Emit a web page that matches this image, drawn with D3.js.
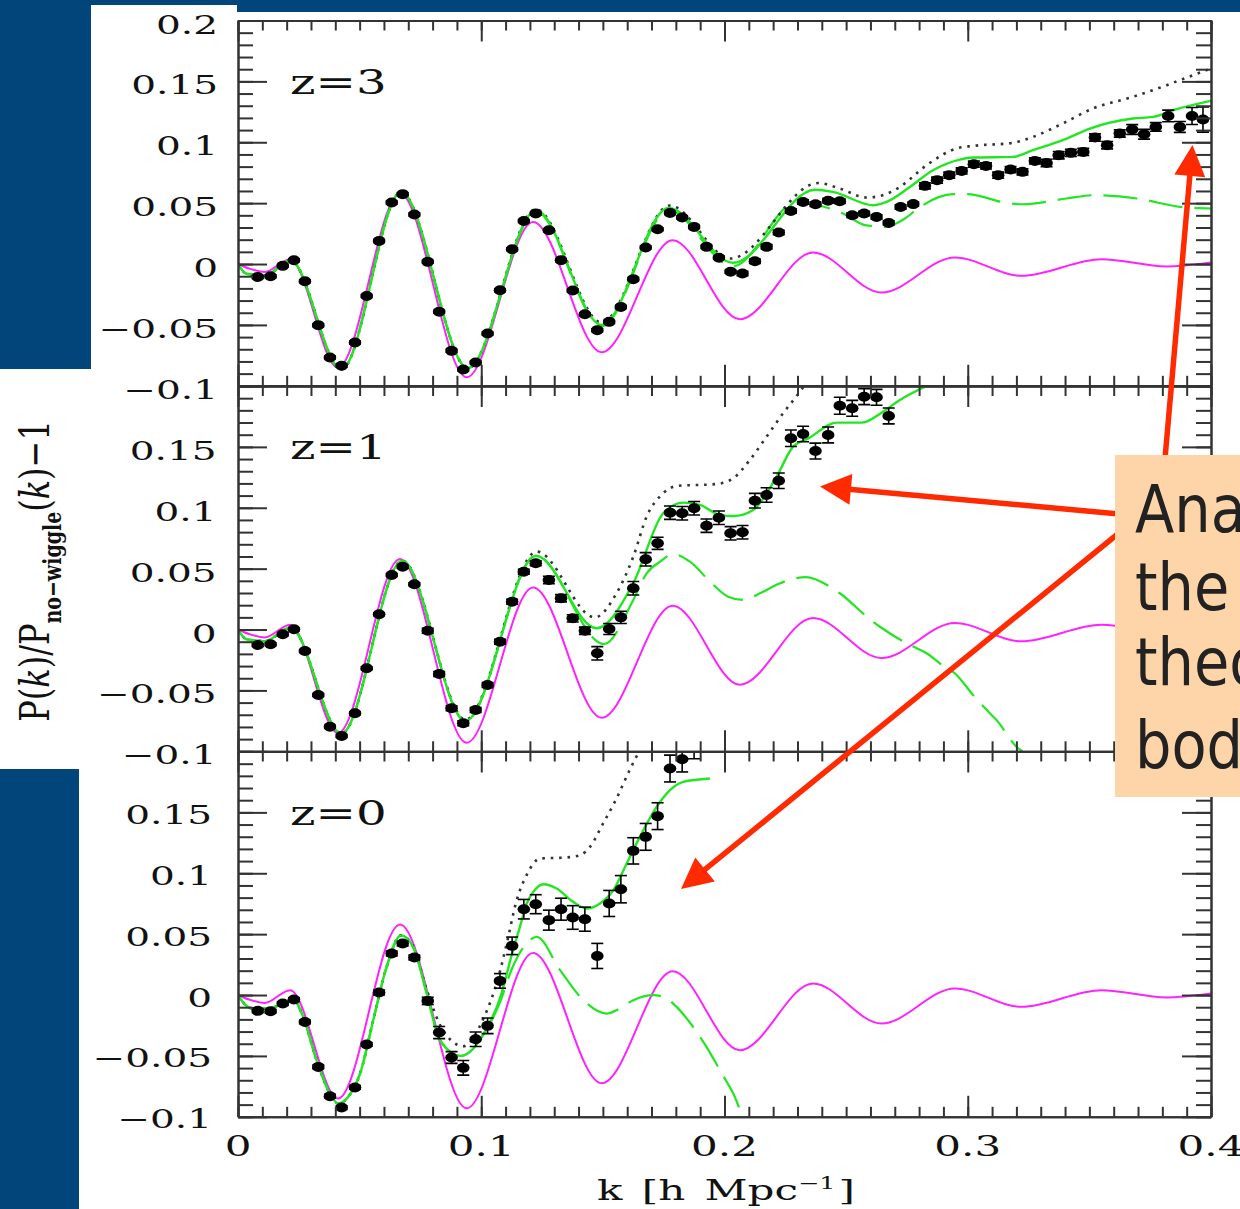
<!DOCTYPE html>
<html>
<head>
<meta charset="utf-8">
<script src="https://cdn.jsdelivr.net/npm/d3@7"></script>
<style>
  html, body { margin: 0; padding: 0; background: #ffffff; }
  svg { display: block; }
</style>
</head>
<body>
<svg id="chart" width="1240" height="1209"></svg>
<script>
// ---------------------------------------------------------------
// BAO wiggle ratio P(k)/P_no-wiggle(k) - 1 at three redshifts
// ---------------------------------------------------------------

// wavenumber bins of the N-body measurements [h/Mpc]
const kBins = [0.0081, 0.0134, 0.0184, 0.0230, 0.0275, 0.0330, 0.0378, 0.0426, 0.0481, 0.0529,
  0.0580, 0.0632, 0.0677, 0.0725, 0.0780, 0.0827, 0.0878, 0.0926, 0.0977, 0.1026,
  0.1077, 0.1127, 0.1175, 0.1224, 0.1278, 0.1328, 0.1376, 0.1426, 0.1477, 0.1526,
  0.1574, 0.1625, 0.1676, 0.1725, 0.1776, 0.1826, 0.1875, 0.1926, 0.1977, 0.2025,
  0.2074, 0.2125, 0.2173, 0.2223, 0.2273, 0.2323, 0.2374, 0.2426, 0.2474, 0.2525,
  0.2574, 0.2625, 0.2675, 0.2724, 0.2776, 0.2824, 0.2874, 0.2924, 0.2975, 0.3025,
  0.3075, 0.3125, 0.3176, 0.3225, 0.3276, 0.3324, 0.3374, 0.3424, 0.3475, 0.3523,
  0.3573, 0.3625, 0.3676, 0.3725, 0.3773, 0.3824, 0.3872, 0.3922, 0.3967];

// measured ratio and 1-sigma errors, z = 3
const ratioZ3 = [-0.0106, -0.0100, -0.0015, 0.0031, -0.0141, -0.0502, -0.0768, -0.0836, -0.0644, -0.0262,
  0.0190, 0.0505, 0.0574, 0.0407, 0.0018, -0.0392, -0.0713, -0.0866, -0.0808, -0.0570,
  -0.0215, 0.0122, 0.0354, 0.0415, 0.0278, 0.0032, -0.0218, -0.0412, -0.0543, -0.0475,
  -0.0352, -0.0124, 0.0136, 0.0286, 0.0420, 0.0382, 0.0305, 0.0141, 0.0051, -0.0064,
  -0.0078, 0.0023, 0.0141, 0.0259, 0.0436, 0.0510, 0.0491, 0.0519, 0.0516, 0.0401,
  0.0415, 0.0387, 0.0338, 0.0469, 0.0492, 0.0642, 0.0689, 0.0730, 0.0765, 0.0820,
  0.0806, 0.0730, 0.0776, 0.0757, 0.0847, 0.0830, 0.0894, 0.0913, 0.0921, 0.1039,
  0.0976, 0.1072, 0.1105, 0.1066, 0.1126, 0.1216, 0.1126, 0.1216, 0.1187];
const errZ3 = [0.0012, 0.0012, 0.0012, 0.0012, 0.0012, 0.0012, 0.0012, 0.0012, 0.0012, 0.0012,
  0.0012, 0.0012, 0.0012, 0.0012, 0.0012, 0.0012, 0.0012, 0.0012, 0.0012, 0.0012,
  0.0012, 0.0012, 0.0012, 0.0012, 0.0012, 0.0012, 0.0012, 0.0012, 0.0012, 0.0012,
  0.0012, 0.0012, 0.0012, 0.0012, 0.0012, 0.0012, 0.0012, 0.0012, 0.0012, 0.0012,
  0.0018, 0.0018, 0.0018, 0.0018, 0.0018, 0.0018, 0.0018, 0.0018, 0.0018, 0.0018,
  0.0018, 0.0018, 0.0018, 0.0018, 0.0018, 0.0025, 0.0025, 0.0025, 0.0025, 0.0025,
  0.0025, 0.0025, 0.0025, 0.0025, 0.0025, 0.0030, 0.0030, 0.0030, 0.0030, 0.0030,
  0.0030, 0.0030, 0.0040, 0.0040, 0.0035, 0.0048, 0.0045, 0.0070, 0.0104];

// measured ratio and errors, z = 1
const ratioZ1 = [-0.0127, -0.0121, -0.0039, 0.0002, -0.0176, -0.0538, -0.0798, -0.0874, -0.0688, -0.0318,
  0.0125, 0.0448, 0.0516, 0.0372, -0.0010, -0.0365, -0.0647, -0.0770, -0.0661, -0.0455,
  -0.0100, 0.0229, 0.0475, 0.0544, 0.0407, 0.0257, 0.0092, -0.0010, -0.0195, 0.0004,
  0.0100, 0.0339, 0.0577, 0.0708, 0.0960, 0.0955, 0.0996, 0.0853, 0.0918, 0.0790,
  0.0799, 0.1058, 0.1105, 0.1222, 0.1571, 0.1606, 0.1466, 0.1598, 0.1838, 0.1817,
  0.1912, 0.1907, 0.1754];
const errZ1 = [0.0012, 0.0012, 0.0012, 0.0012, 0.0012, 0.0012, 0.0012, 0.0012, 0.0012, 0.0012,
  0.0012, 0.0012, 0.0012, 0.0012, 0.0020, 0.0020, 0.0020, 0.0020, 0.0020, 0.0020,
  0.0020, 0.0020, 0.0020, 0.0020, 0.0030, 0.0030, 0.0030, 0.0030, 0.0055, 0.0045,
  0.0050, 0.0055, 0.0055, 0.0050, 0.0055, 0.0055, 0.0055, 0.0055, 0.0055, 0.0055,
  0.0055, 0.0060, 0.0060, 0.0064, 0.0068, 0.0064, 0.0065, 0.0065, 0.0070, 0.0065,
  0.0065, 0.0065, 0.0065];

// measured ratio and errors, z = 0
const ratioZ0 = [-0.0130, -0.0133, -0.0070, -0.0037, -0.0221, -0.0590, -0.0831, -0.0924, -0.0759, -0.0406,
  0.0021, 0.0341, 0.0423, 0.0308, -0.0048, -0.0308, -0.0513, -0.0598, -0.0363, -0.0253,
  0.0116, 0.0404, 0.0705, 0.0746, 0.0615, 0.0705, 0.0637, 0.0623, 0.0321, 0.0752,
  0.0869, 0.1184, 0.1299, 0.1469, 0.1860, 0.1937, 0.2050];
const errZ0 = [0.0015, 0.0015, 0.0015, 0.0015, 0.0015, 0.0015, 0.0015, 0.0015, 0.0015, 0.0015,
  0.0020, 0.0020, 0.0020, 0.0020, 0.0030, 0.0050, 0.0048, 0.0060, 0.0060, 0.0064,
  0.0060, 0.0072, 0.0080, 0.0078, 0.0082, 0.0090, 0.0097, 0.0099, 0.0103, 0.0107,
  0.0112, 0.0108, 0.0110, 0.0110, 0.0110, 0.0105, 0.0110];

// linear theory (same in every panel)
const kLinear = [0, 0.005, 0.011, 0.0214, 0.0411, 0.0666, 0.094, 0.1213, 0.1495, 0.1787,
  0.2063, 0.2364, 0.2645, 0.2947, 0.3221, 0.355, 0.3817, 0.4];
const linear = [0, -0.004, -0.0065, 0.004, -0.085, 0.058, -0.093, 0.0346, -0.0724, 0.0196,
  -0.0453, 0.0095, -0.0234, 0.0054, -0.0097, 0.004, -0.002, 0.0012];

// z = 3 model curves
const kFullZ3 = [0, 0.0035, 0.011, 0.0215, 0.0425, 0.067, 0.0945, 0.1225, 0.1495, 0.177,
  0.2035, 0.2372, 0.2445, 0.2611, 0.2666, 0.2762, 0.2857, 0.2967, 0.3021, 0.3185,
  0.3268, 0.339, 0.3502, 0.3679, 0.3761, 0.3843, 0.4];
const fullZ3 = [0, -0.008, -0.0095, 0.003, -0.0865, 0.059, -0.0855, 0.044, -0.050, 0.046,
  0.001, 0.061, 0.0593, 0.0483, 0.051, 0.0633, 0.077, 0.0858, 0.0875, 0.088,
  0.0935, 0.1017, 0.1113, 0.1195, 0.1208, 0.1263, 0.134];
const kPartZ3 = [0, 0.0035, 0.011, 0.0215, 0.0425, 0.067, 0.0945, 0.1225, 0.1495, 0.177,
  0.2035, 0.2295, 0.2487, 0.2577, 0.266, 0.2742, 0.2795, 0.2939, 0.2996, 0.3173,
  0.3227, 0.3407, 0.3515, 0.3696, 0.3872, 0.4];
const partZ3 = [0, -0.008, -0.0095, 0.003, -0.0865, 0.059, -0.0855, 0.043, -0.051, 0.044,
  -0.002, 0.0505, 0.0415, 0.032, 0.0305, 0.0374, 0.0456, 0.0574, 0.0574, 0.0497,
  0.0491, 0.0538, 0.0565, 0.0538, 0.047, 0.0456];
const kAltZ3 = [0, 0.0035, 0.011, 0.0215, 0.0425, 0.067, 0.0945, 0.1225, 0.1495, 0.1775,
  0.2025, 0.2385, 0.2474, 0.2584, 0.2651, 0.2721, 0.2831, 0.2954, 0.3021, 0.3185,
  0.3268, 0.339, 0.3514, 0.3679, 0.3818, 0.3872, 0.4];
const altZ3 = [0, -0.008, -0.0095, 0.003, -0.0865, 0.059, -0.0855, 0.045, -0.048, 0.048,
  0.0045, 0.0665, 0.062, 0.0546, 0.0565, 0.0633, 0.0812, 0.0949, 0.097, 0.0995,
  0.1044, 0.1154, 0.1277, 0.1373, 0.1469, 0.151, 0.1606];

// z = 1 model curves
const kFullZ1 = [0, 0.0035, 0.011, 0.0215, 0.0425, 0.0675, 0.0935, 0.1225, 0.1474, 0.1625,
  0.1748, 0.183, 0.1899, 0.1981, 0.2036, 0.2118, 0.2214, 0.2282, 0.2345, 0.2461,
  0.2563, 0.2652, 0.2721, 0.2831];
const fullZ1 = [0, -0.008, -0.0095, 0.0015, -0.0855, 0.0565, -0.075, 0.0606, 0.001, 0.038,
  0.0955, 0.1042, 0.1023, 0.094, 0.0932, 0.0982, 0.1255, 0.1502, 0.157, 0.1699,
  0.1699, 0.1789, 0.1885, 0.2];
const kPartZ1 = [0, 0.0035, 0.011, 0.0215, 0.0425, 0.0675, 0.0935, 0.1225, 0.1505, 0.1625,
  0.168, 0.1735, 0.1789, 0.1858, 0.1947, 0.2015, 0.2077, 0.2146, 0.2221, 0.2276,
  0.2335, 0.2433, 0.2474, 0.2598, 0.2639, 0.2762, 0.2831, 0.2885, 0.2954, 0.3022,
  0.3091, 0.3118, 0.3207, 0.3225];
const partZ1 = [0, -0.008, -0.0095, 0.0015, -0.0855, 0.0565, -0.075, 0.0606, -0.012, 0.0243,
  0.0462, 0.0557, 0.062, 0.0557, 0.038, 0.027, 0.0243, 0.0298, 0.0374, 0.0413,
  0.043, 0.0352, 0.0298, 0.0084, 0.0023, -0.0127, -0.0195, -0.0277, -0.0373, -0.0538,
  -0.0688, -0.0743, -0.0975, -0.1];
const kAltZ1 = [0, 0.0035, 0.011, 0.0215, 0.0425, 0.0675, 0.0935, 0.1228, 0.1467, 0.1556,
  0.1625, 0.168, 0.1748, 0.1803, 0.1967, 0.2036, 0.2104, 0.2173, 0.2241, 0.231, 0.2345];
const altZ1 = [0, -0.008, -0.0095, 0.0015, -0.0855, 0.0565, -0.074, 0.064, 0.010, 0.0298,
  0.0598, 0.0927, 0.1119, 0.1179, 0.1195, 0.1242, 0.1392, 0.1584, 0.1776, 0.1953, 0.205];

// z = 0 model curves
const kFullZ0 = [0, 0.003, 0.006, 0.0118, 0.0186, 0.0225, 0.0268, 0.0323, 0.0378, 0.0412,
  0.0453, 0.0502, 0.0556, 0.0611, 0.067, 0.072, 0.0776, 0.083, 0.0915, 0.1026,
  0.1077, 0.1127, 0.1159, 0.1187, 0.1214, 0.1255, 0.131, 0.1378, 0.1433, 0.1488,
  0.1543, 0.1598, 0.1652, 0.1721, 0.1776, 0.183, 0.194];
const fullZ0 = [0, -0.008, -0.011, -0.011, -0.007, -0.003, -0.018, -0.0535, -0.0809, -0.0891,
  -0.0836, -0.0644, -0.0207, 0.0231, 0.049, 0.0395, 0.0013, -0.0371, -0.050, -0.026,
  -0.0027, 0.0341, 0.056, 0.0752, 0.0847, 0.091, 0.0875, 0.0765, 0.0711, 0.0752,
  0.0861, 0.108, 0.1299, 0.1545, 0.1682, 0.175, 0.1778];
const kPartZ0 = [0, 0.003, 0.006, 0.0118, 0.0186, 0.0225, 0.0268, 0.0323, 0.0378, 0.0412,
  0.0453, 0.0502, 0.0556, 0.0611, 0.067, 0.072, 0.0776, 0.083, 0.0915, 0.1026,
  0.1077, 0.1127, 0.118, 0.1228, 0.1324, 0.142, 0.1515, 0.157, 0.1625, 0.1707,
  0.1762, 0.1803, 0.1871, 0.1926, 0.1981, 0.2036, 0.2077, 0.2085];
const partZ0 = [0, -0.008, -0.011, -0.011, -0.007, -0.003, -0.018, -0.0535, -0.0809, -0.0891,
  -0.0836, -0.0644, -0.0207, 0.0231, 0.049, 0.0395, 0.0013, -0.0371, -0.050, -0.027,
  -0.006, 0.022, 0.041, 0.0478, 0.0204, -0.0042, -0.0152, -0.011, -0.0042, 0.0,
  -0.0028, -0.0097, -0.0262, -0.0426, -0.0617, -0.0809, -0.0987, -0.1];
const kAltZ0 = [0, 0.003, 0.006, 0.0118, 0.0186, 0.0225, 0.0268, 0.0323, 0.0378, 0.0412,
  0.0453, 0.0502, 0.0556, 0.0611, 0.067, 0.072, 0.0776, 0.084, 0.0926, 0.1012,
  0.1067, 0.1108, 0.1142, 0.119, 0.1241, 0.1351, 0.1406, 0.1447, 0.1501, 0.1556,
  0.161, 0.1645, 0.1665];
const altZ0 = [0, -0.008, -0.011, -0.011, -0.007, -0.003, -0.018, -0.0535, -0.0809, -0.0891,
  -0.0836, -0.0644, -0.0207, 0.0231, 0.049, 0.040, 0.004, -0.028, -0.042, -0.018,
  0.0122, 0.045, 0.0752, 0.0998, 0.1121, 0.113, 0.1148, 0.1217, 0.1409, 0.1614,
  0.1847, 0.1984, 0.205];

// axis ticks and labels
const xMajorTicks = [0, 0.1, 0.2, 0.3, 0.4];
const xTickLabels = ["0", "0.1", "0.2", "0.3", "0.4"];
const yMajorTicks = [-0.1, -0.05, 0, 0.05, 0.1, 0.15, 0.2];
const yTickLabelsTop = ["−0.1", "−0.05", "0", "0.05", "0.1", "0.15", "0.2"];
const yTickLabelsLower = ["−0.1", "−0.05", "0", "0.05", "0.1", "0.15", null];
const panelNames = ["z=3", "z=1", "z=0"];

// annotation
const noteLines = ["Analytic model vs.", "the perturbation", "theory and N-", "body results"];

// ---------------------------------------------------------------
const svg = d3.select("#chart");
const BLUE = "#02457a";
const GREEN = "#22e622";
const MAGENTA = "#ff22ff";
const INK = "#222";
const SERIF = "'DejaVu Serif', 'Liberation Serif', serif";

// slide background
svg.append("rect").attr("x", 0).attr("y", 0).attr("width", 1240).attr("height", 1209).attr("fill", "#fff");
svg.append("rect").attr("x", 0).attr("y", 0).attr("width", 1240).attr("height", 12).attr("fill", BLUE);
svg.append("rect").attr("x", 0).attr("y", 0).attr("width", 91).attr("height", 369).attr("fill", BLUE);
svg.append("rect").attr("x", 91).attr("y", 5).attr("width", 146).attr("height", 10).attr("fill", "#fff");
svg.append("rect").attr("x", 0).attr("y", 769).attr("width", 79).attr("height", 440).attr("fill", BLUE);

const x = d3.scaleLinear().domain([0, 0.4]).range([238, 1211]);
const panelTop = [20.5, 386, 751.5];
const panelH = 365.3;

const panels = [
  { name: panelNames[0], ratio: ratioZ3, err: errZ3,
    full: [kFullZ3, fullZ3], part: [kPartZ3, partZ3], alt: [kAltZ3, altZ3],
    labels: yTickLabelsTop, labelRight: 218, labelDy: 13 },
  { name: panelNames[1], ratio: ratioZ1, err: errZ1,
    full: [kFullZ1, fullZ1], part: [kPartZ1, partZ1], alt: [kAltZ1, altZ1],
    labels: yTickLabelsLower, labelRight: 216.5, labelDy: 13 },
  { name: panelNames[2], ratio: ratioZ0, err: errZ0,
    full: [kFullZ0, fullZ0], part: [kPartZ0, partZ0], alt: [kAltZ0, altZ0],
    labels: yTickLabelsLower, labelRight: 212, labelDy: 11.5 }
];

const defs = svg.append("defs");
const zip = (ks, vs) => ks.map((k, i) => [k, vs[i]]);

// horizontally stretched serif text, as in the plotting package's font
function stretched(parent, px, py, str, size, anchor, sx) {
  return parent.append("text")
    .attr("transform", `translate(${px},${py}) scale(${sx},1)`)
    .attr("text-anchor", anchor)
    .attr("font-family", SERIF)
    .attr("font-size", size)
    .attr("fill", "#111")
    .text(str);
}

const xMinor = d3.range(0, 41).map(i => i / 100);
const yMinor = d3.range(-10, 21).map(i => i / 100);

panels.forEach((p, i) => {
  const top = panelTop[i], bottom = top + panelH;
  const y = d3.scaleLinear().domain([-0.1, 0.2]).range([bottom, top]);
  const g = svg.append("g");

  defs.append("clipPath").attr("id", "clip" + i)
    .append("rect").attr("x", 238).attr("y", top).attr("width", 973).attr("height", panelH);
  const plot = g.append("g").attr("clip-path", `url(#clip${i})`);

  const line = d3.line().x(d => x(d[0])).y(d => y(d[1])).curve(d3.curveMonotoneX);

  // linear theory
  plot.append("path").datum(zip(kLinear, linear)).attr("d", line)
    .attr("fill", "none").attr("stroke", MAGENTA).attr("stroke-width", 2);
  // dashed model
  plot.append("path").datum(zip(p.part[0], p.part[1])).attr("d", line)
    .attr("fill", "none").attr("stroke", GREEN).attr("stroke-width", 2.2)
    .attr("stroke-dasharray", "34,12");
  // dotted model
  plot.append("path").datum(zip(p.alt[0], p.alt[1])).attr("d", line)
    .attr("fill", "none").attr("stroke", "#333").attr("stroke-width", 2.6)
    .attr("stroke-dasharray", "2.6,5.8");
  // full model
  plot.append("path").datum(zip(p.full[0], p.full[1])).attr("d", line)
    .attr("fill", "none").attr("stroke", GREEN).attr("stroke-width", 2.4);

  // N-body points with error bars
  const pts = p.ratio.map((v, j) => ({ k: kBins[j], v: v, e: p.err[j] }));
  const pg = plot.append("g").attr("stroke", "#000").attr("stroke-width", 1.6);
  pts.forEach(d => {
    const cx = x(d.k), y0 = y(d.v + d.e), y1 = y(d.v - d.e);
    pg.append("line").attr("x1", cx).attr("x2", cx).attr("y1", y0).attr("y2", y1);
    pg.append("line").attr("x1", cx - 6).attr("x2", cx + 6).attr("y1", y0).attr("y2", y0);
    pg.append("line").attr("x1", cx - 6).attr("x2", cx + 6).attr("y1", y1).attr("y2", y1);
  });
  plot.append("g").selectAll("ellipse").data(pts).join("ellipse")
    .attr("cx", d => x(d.k)).attr("cy", d => y(d.v))
    .attr("rx", 6.3).attr("ry", 5).attr("fill", "#000");

  // frame and inward ticks on all four sides
  const axes = g.append("g").attr("color", "#333");
  const styleAxis = sel => sel.selectAll("line,path").attr("stroke-width", 2);
  axes.append("g").attr("transform", "translate(238,0)")
    .call(d3.axisLeft(y).tickValues(yMinor).tickSize(-15).tickSizeOuter(0).tickFormat(""))
    .call(styleAxis);
  axes.append("g").attr("transform", "translate(238,0)")
    .call(d3.axisLeft(y).tickValues(yMajorTicks).tickSize(-29).tickSizeOuter(0).tickFormat(""))
    .call(styleAxis);
  axes.append("g").attr("transform", "translate(1211,0)")
    .call(d3.axisRight(y).tickValues(yMinor).tickSize(-15).tickSizeOuter(0).tickFormat(""))
    .call(styleAxis);
  axes.append("g").attr("transform", "translate(1211,0)")
    .call(d3.axisRight(y).tickValues(yMajorTicks).tickSize(-29).tickSizeOuter(0).tickFormat(""))
    .call(styleAxis);
  axes.append("g").attr("transform", `translate(0,${top})`)
    .call(d3.axisTop(x).tickValues(xMinor).tickSize(-10).tickSizeOuter(0).tickFormat(""))
    .call(styleAxis);
  axes.append("g").attr("transform", `translate(0,${top})`)
    .call(d3.axisTop(x).tickValues(xMajorTicks).tickSize(-21).tickSizeOuter(0).tickFormat(""))
    .call(styleAxis);
  axes.append("g").attr("transform", `translate(0,${bottom})`)
    .call(d3.axisBottom(x).tickValues(xMinor).tickSize(-10).tickSizeOuter(0).tickFormat(""))
    .call(styleAxis);
  axes.append("g").attr("transform", `translate(0,${bottom})`)
    .call(d3.axisBottom(x).tickValues(xMajorTicks).tickSize(-21).tickSizeOuter(0).tickFormat(""))
    .call(styleAxis);

  // y tick labels (the top label of the lower panels is shared with the panel above)
  yMajorTicks.forEach((t, j) => {
    const lab = p.labels[j];
    if (lab === null) return;
    stretched(svg, p.labelRight, y(t) + p.labelDy, lab, 26, "end", 1.5);
  });

  // redshift label
  stretched(svg, 290, top + 73, p.name, 34, "start", 1.42);
});

// x tick labels
xMajorTicks.forEach((t, j) => {
  stretched(svg, x(t), 1156, xTickLabels[j], 28, "middle", 1.5);
});

// x axis title
{
  const t = svg.append("text")
    .attr("transform", "translate(597,1200) scale(1.5,1)")
    .attr("font-family", SERIF).attr("font-size", 28).attr("fill", "#111")
    .attr("word-spacing", 4);
  t.append("tspan").text("k [h Mpc");
  t.append("tspan").attr("font-size", 17).attr("dy", -11).text("−1");
  t.append("tspan").attr("dy", 11).attr("dx", 2).text("]");
}

// y axis title
{
  const t = svg.append("text")
    .attr("transform", "translate(49,571) scale(1.3,1) rotate(-90)")
    .attr("text-anchor", "middle")
    .attr("font-family", SERIF).attr("font-size", 32).attr("fill", "#111");
  t.append("tspan").text("P(");
  t.append("tspan").attr("font-style", "italic").text("k");
  t.append("tspan").text(")/P");
  t.append("tspan").attr("font-size", 19).attr("font-weight", "bold").attr("dy", 9).text("no−wiggle");
  t.append("tspan").attr("dy", -9).text("(");
  t.append("tspan").attr("font-style", "italic").text("k");
  t.append("tspan").text(")−1");
}

// annotation arrows
const RED = "#ff2a00";
function arrow(x1, y1, x2, y2) {
  const len = Math.hypot(x2 - x1, y2 - y1);
  const ux = (x2 - x1) / len, uy = (y2 - y1) / len;
  const hl = 31, hw = 15.5;
  const bx = x2 - ux * hl, by = y2 - uy * hl;
  svg.append("line").attr("x1", x1).attr("y1", y1).attr("x2", bx + ux * 2).attr("y2", by + uy * 2)
    .attr("stroke", RED).attr("stroke-width", 5.5);
  svg.append("polygon")
    .attr("points", [[x2, y2], [bx - uy * hw, by + ux * hw], [bx + uy * hw, by - ux * hw]].map(q => q.join(",")).join(" "))
    .attr("fill", RED);
}
arrow(1164, 470, 1192.5, 145);
arrow(1130, 515, 820, 486.5);
arrow(1130, 524, 681, 889);

// annotation box (runs off the right edge of the slide)
defs.append("clipPath").attr("id", "noteClip")
  .append("rect").attr("x", 1115).attr("y", 455).attr("width", 125).attr("height", 342);
svg.append("rect").attr("x", 1115).attr("y", 455).attr("width", 125).attr("height", 342).attr("fill", "#fed5a9");
const note = svg.append("g").attr("clip-path", "url(#noteClip)");
const baselines = [531.5, 610, 685, 768];
noteLines.forEach((s, j) => {
  note.append("text")
    .attr("transform", `translate(1135,${baselines[j]}) scale(0.87,1)`)
    .attr("font-family", "'DejaVu Sans', Verdana, sans-serif")
    .attr("font-size", 66).attr("fill", INK).text(s);
});
</script>
</body>
</html>
